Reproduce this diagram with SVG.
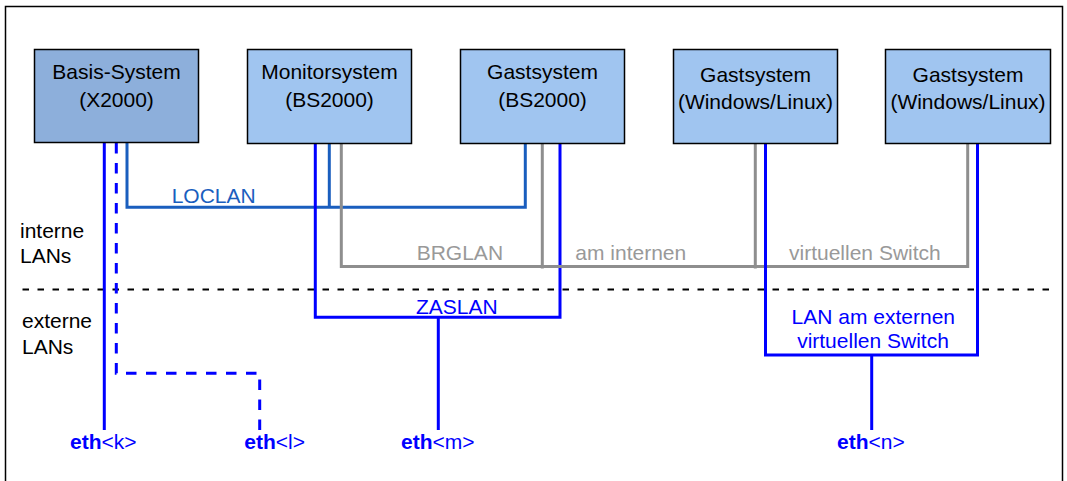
<svg xmlns="http://www.w3.org/2000/svg" width="1067" height="481" viewBox="0 0 1067 481">
<style>
text{font-family:"Liberation Sans",Arial,sans-serif;font-size:21px}
.box{stroke:#000;stroke-width:1.5}
.nt{fill:#000;text-anchor:middle}
.lab{fill:#000}
.w{fill:none;stroke-width:3;stroke-linejoin:miter;stroke-linecap:butt}
.blue{stroke:#0000FF}
.loc{stroke:#1A5EBE}
.gray{stroke:#8E8E8E}
.dash{stroke-dasharray:10.5 9.5}
.tb{fill:#0000FF}
.tl{fill:#1A5EBE}
.tg{fill:#999999}
.b{font-weight:bold}
</style>
<rect x="0" y="0" width="1067" height="481" fill="#fff"/>
<path d="M5.5 490 V6.5 H1062.5 V490" fill="none" stroke="#000" stroke-width="1.5"/>

<g id="divider">
<line x1="22.5" y1="289.5" x2="1054" y2="289.5" stroke="#000" stroke-width="2.2" stroke-dasharray="6.5 8.5"/>
</g>

<g id="side-labels">
<text class="lab" x="20" y="238">interne</text>
<text class="lab" x="20" y="263">LANs</text>
<text class="lab" x="22" y="328">externe</text>
<text class="lab" x="22" y="354">LANs</text>
</g>

<g id="connectors">
<!-- Basis system -->
<path class="w blue" d="M104.3 143 V430"/>
<path class="w blue dash" d="M116.3 143 V373.3 H259.7 V430"/>
<!-- LOCLAN -->
<path class="w loc" d="M127 143 V207.3 H525.3 V143.5"/>
<path class="w loc" d="M329.3 143.5 V207.3"/>
<!-- ZASLAN -->
<path class="w blue" d="M315.3 143.5 V317.3 H560 V143.5"/>
<path class="w blue" d="M438.3 317.3 V430"/>
<!-- BRGLAN -->
<path class="w gray" d="M341.3 143.5 V266.5 H967.7 V143.5"/>
<path class="w gray" d="M542.3 143.5 V268.5"/>
<path class="w gray" d="M755.3 143.5 V268.5"/>
<!-- external LAN -->
<path class="w blue" d="M765.5 143.5 V355 H977.5 V143.5"/>
<path class="w blue" d="M871.7 355 V430"/>

<text class="tl" x="171.7" y="202.7">LOCLAN</text>
<text class="tg" x="416.7" y="260">BRGLAN</text>
<text class="tg" x="575.3" y="260">am internen</text>
<text class="tg" x="789" y="260">virtuellen Switch</text>
<text class="tb" x="416" y="314">ZASLAN</text>
<text class="tb" x="873.3" y="324" text-anchor="middle">LAN am externen</text>
<text class="tb" x="873" y="348.3" text-anchor="middle">virtuellen Switch</text>

<text class="tb" x="70" y="449.3"><tspan class="b">eth</tspan>&lt;k&gt;</text>
<text class="tb" x="244.3" y="449.3"><tspan class="b">eth</tspan>&lt;l&gt;</text>
<text class="tb" x="401" y="449.3"><tspan class="b">eth</tspan>&lt;m&gt;</text>
<text class="tb" x="837" y="449.3"><tspan class="b">eth</tspan>&lt;n&gt;</text>
</g>

<g id="basis">
<rect class="box" x="34.5" y="49.5" width="164" height="93" fill="#8DAFDB"/>
<text class="nt" x="116.5" y="79">Basis-System</text>
<text class="nt" x="116.5" y="106.5">(X2000)</text>
</g>
<g id="monitor">
<rect class="box" x="247.5" y="49.5" width="164" height="94" fill="#A0C5F0"/>
<text class="nt" x="329.5" y="79">Monitorsystem</text>
<text class="nt" x="329.5" y="106.5">(BS2000)</text>
</g>
<g id="gast-bs2000">
<rect class="box" x="460.5" y="49.5" width="164" height="94" fill="#A0C5F0"/>
<text class="nt" x="542.5" y="79">Gastsystem</text>
<text class="nt" x="542.5" y="106.5">(BS2000)</text>
</g>
<g id="gast-win1">
<rect class="box" x="673.5" y="49.5" width="164" height="94" fill="#A0C5F0"/>
<text class="nt" x="755.5" y="81.5">Gastsystem</text>
<text class="nt" x="755.5" y="108.5">(Windows/Linux)</text>
</g>
<g id="gast-win2">
<rect class="box" x="885.5" y="49.5" width="165" height="94" fill="#A0C5F0"/>
<text class="nt" x="968" y="81.5">Gastsystem</text>
<text class="nt" x="968" y="108.5">(Windows/Linux)</text>
</g>
</svg>
